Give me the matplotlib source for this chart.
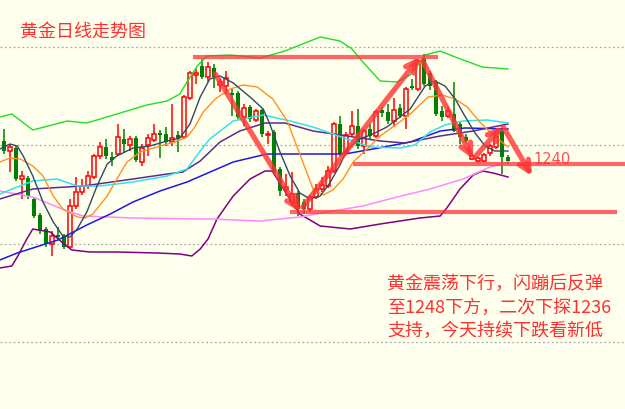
import numpy as np
import matplotlib
matplotlib.use('Agg')
import matplotlib.pyplot as plt

plt.rcParams['font.family'] = ['Noto Sans CJK SC', 'DejaVu Sans']

# daily candles (open, high, low, close)
opens = [1256.5, 1251.5, 1246.5, 1248, 1232.5, 1233, 1222.5, 1214.5, 1207.5, 1200,
         1204.5, 1204, 1198.5, 1219, 1226, 1229, 1233.5, 1244, 1248.5, 1243.5,
         1245, 1252.5, 1249.5, 1253, 1241, 1249.5, 1252, 1255.5, 1255, 1251,
         1254.5, 1253.5, 1273, 1284.5, 1289, 1283.5, 1288, 1279.5, 1279, 1275.5,
         1275.5, 1263.5, 1268.5, 1262, 1267, 1254.5, 1256, 1237.5, 1227.5, 1221,
         1225.5, 1221, 1217.5, 1223.5, 1227.5, 1229, 1236.5, 1260, 1246, 1255,
         1259, 1249, 1257.5, 1254, 1267, 1266, 1261.5, 1268, 1264, 1279,
         1277.5, 1292.5, 1285.5, 1281, 1266.5, 1264, 1265, 1260, 1253.5, 1242.5,
         1241.5, 1241.5, 1245.5, 1248.5, 1256.5, 1243.5]
highs = [1258.5, 1257.5, 1250, 1249, 1236.5, 1234, 1223.5, 1215.5, 1208.5, 1206.5,
         1208.5, 1205, 1222.5, 1233.5, 1232.5, 1236.5, 1245, 1251, 1252.5, 1246,
         1260, 1257.5, 1254, 1254, 1250, 1255, 1260, 1257, 1258.5, 1270,
         1256.5, 1274.5, 1286.5, 1287.5, 1292.5, 1291, 1290, 1282.5, 1286.5, 1277.5,
         1276.5, 1270, 1269.5, 1267.5, 1267.5, 1256.5, 1257, 1238.5, 1235, 1236,
         1226.5, 1222.5, 1224.5, 1230, 1233.5, 1239, 1261, 1264, 1256, 1266.5,
         1267.5, 1257.5, 1260, 1267, 1268.5, 1270, 1273, 1270, 1278.5, 1282.5,
         1292.5, 1295, 1286.5, 1282, 1269, 1268.5, 1281, 1261.5, 1255, 1245,
         1243.5, 1245.5, 1250, 1254.5, 1258, 1244.5]
lows = [1245, 1245, 1236, 1231.5, 1222.5, 1222.5, 1213, 1205, 1198.5, 1194,
        1202.5, 1197.5, 1197.5, 1217.5, 1224.5, 1227.5, 1232.5, 1242.5, 1242.5, 1239,
        1244, 1246, 1246.5, 1241, 1239, 1244, 1251, 1243, 1249, 1249,
        1246, 1252.5, 1272, 1280, 1282.5, 1281, 1278, 1276, 1275, 1264,
        1262.5, 1259, 1261, 1261, 1253.5, 1250, 1235, 1224, 1224, 1219,
        1214, 1215, 1216, 1222.5, 1226, 1228, 1235.5, 1244, 1245, 1254,
        1247.5, 1245, 1252.5, 1253, 1263.5, 1260, 1258.5, 1263, 1257.5, 1277,
        1276.5, 1279, 1277, 1264, 1261.5, 1263, 1256, 1250, 1250.5, 1242,
        1241, 1241, 1244, 1247.5, 1235, 1240]
closes = [1247.5, 1246.5, 1248.5, 1232.5, 1234, 1224, 1214, 1206.5, 1200, 1204,
          1203.5, 1198.5, 1219, 1226, 1229, 1234, 1244, 1248.5, 1244, 1242,
          1253.5, 1250, 1252.5, 1242, 1248, 1253, 1255, 1254.5, 1251, 1253,
          1253, 1273.5, 1285.5, 1285.5, 1283.5, 1288.5, 1283.5, 1281, 1283, 1274.5,
          1263.5, 1268, 1262.5, 1266.5, 1255, 1255, 1236, 1226.5, 1228.5, 1225,
          1217.5, 1217.5, 1223.5, 1227.5, 1229.5, 1236.5, 1260, 1245, 1254.5, 1259,
          1249, 1256.5, 1254, 1266, 1265.5, 1261.5, 1267, 1264, 1277.5, 1278,
          1291.5, 1280, 1279, 1265, 1263.5, 1266.5, 1256.5, 1253.5, 1251.5, 1244,
          1243, 1244.5, 1249, 1253.5, 1243.5, 1241.5]

# indicator lines, sampled along the bar axis
ma5_x = [0.3, 2, 3.2, 4.2, 5.8, 7.5, 9.2, 10.8, 12, 13.2, 14.8, 16.5, 18.2, 19.8, 22.5,
         25.3, 28.2, 30.3, 32, 33.7, 35.3, 37, 39.2, 42, 44.2, 45.3, 47, 48.7, 50.3,
         52, 53.7, 55.3, 57, 58.2, 60.3, 62.5, 64.8, 67, 68.7, 71.2, 72.8, 74.5, 76.2,
         77.8, 79.5, 81.2, 82.8, 85]
ma5_y = [1247.5, 1250, 1249, 1244, 1234, 1221, 1211, 1204, 1203.5, 1207.5, 1216, 1229,
         1240, 1244, 1248, 1249, 1251.5, 1253, 1260, 1273.5, 1282.5, 1284, 1280.5,
         1273.5, 1267.5, 1260, 1246, 1234, 1225.5, 1222.5, 1224, 1230.5, 1239.5,
         1247.5, 1252.5, 1255, 1258.5, 1263.5, 1267.5, 1279, 1281.5, 1279, 1272.5,
         1264, 1255.5, 1249, 1246.5, 1246.5]
ma10_x = [0.3, 2, 3.7, 5.8, 7.5, 9.2, 10.8, 13.2, 14.5, 15.8, 18.2, 19.8, 21.5, 23.7,
          27, 29.5, 31.5, 32.8, 34.2, 36.2, 38.7, 40.8, 43.2, 45.8, 48.2, 50.3, 52.5,
          54.2, 55.8, 57.5, 59.2, 61.5, 63.7, 66.5, 68.7, 71.7, 74, 76.2, 78.2, 80.3,
          82.5, 85]
ma10_y = [1241, 1243, 1242.5, 1239, 1234, 1224, 1217.5, 1213.5, 1213, 1215, 1224,
          1232.5, 1241, 1246, 1249, 1251, 1253.5, 1258.5, 1266, 1272.5, 1277.5,
          1279.5, 1278.5, 1272.5, 1261.5, 1245, 1227.5, 1224.5, 1227, 1232.5, 1241,
          1247.5, 1254, 1260, 1265, 1273.5, 1274.5, 1272.5, 1268.5, 1261, 1254.5,
          1248.5]
ma20_x = [0.3, 3.2, 5.8, 9.8, 13.2, 17, 22.5, 28.2, 31.5, 33.7, 35.3, 39.2, 44.2,
          48.7, 52.5, 58.2, 62, 67, 69.5, 72, 74.5, 77.5, 81.5, 85]
ma20_y = [1225, 1228.5, 1231.5, 1232.5, 1229, 1229, 1231, 1234, 1237.5, 1246.5,
          1252.5, 1261.5, 1264.5, 1261.5, 1258.5, 1252.5, 1248.5, 1248, 1249.5,
          1256, 1259.5, 1261.5, 1262, 1260.5]
ma30_x = [0.3, 5.8, 14.2, 22.5, 28.2, 30.8, 33.7, 37, 40.3, 44.5, 47.8, 52.5, 58.2,
          63.7, 67.8, 73.7, 79.2, 85]
ma30_y = [1222.5, 1227.5, 1229, 1232.5, 1235, 1236, 1241.5, 1251, 1256.5, 1260.5,
          1260.5, 1256.5, 1254, 1251.5, 1250.5, 1254, 1256.5, 1260]
ma60_x = [0.3, 3.2, 5.8, 10, 14.8, 18.7, 22.5, 27, 31.5, 34.2, 39.2, 44.8, 50.8, 57.8,
          62.5, 68.7, 73.7, 77.8, 85]
ma60_y = [1192, 1195.5, 1198, 1202, 1209.5, 1215, 1221, 1226.5, 1231, 1234.5, 1241,
          1245, 1245, 1245, 1247.5, 1251, 1256.5, 1258, 1257.5]
ma120_x = [0.3, 5.8, 11.5, 14.2, 22.5, 35.3, 43.7, 50.3, 55.8, 60.8, 66.5, 72, 77.5,
           82, 85]
ma120_y = [1226.5, 1223.5, 1216.5, 1214, 1213, 1212.5, 1211.5, 1213.5, 1216.5, 1219,
           1223.5, 1227.5, 1232.5, 1238.5, 1241]
boll_up_x = [0.3, 2.3, 5.8, 11.5, 14.8, 19.8, 24.8, 28.2, 30.3, 31.5, 33.2, 34.8,
             38.7, 43.7, 47.8, 50.3, 53.7, 57, 59, 60.8, 63.7, 66.5, 68.7, 71.2,
             73.7, 76.2, 80.7, 85]
boll_up_y = [1263.5, 1265, 1257, 1261.5, 1260.5, 1265, 1269.5, 1271.5, 1275, 1281,
             1289, 1294, 1294.5, 1293, 1296.5, 1299.5, 1303.5, 1301.5, 1297.5, 1291,
             1281.5, 1281, 1284.5, 1294.5, 1296.5, 1293.5, 1288.5, 1287.5]
boll_dn_x = [0.3, 2.3, 3.3, 4.8, 5.8, 8.7, 11.2, 12.3, 15.3, 19.8, 26.5, 30.3, 32.3,
             33.7, 35, 36.5, 39.2, 42, 44.5, 45.7, 47.8, 50.3, 53.7, 58.7, 63.7, 67,
             70.3, 73.7, 74.8, 77, 79.2, 80.8, 82.5, 85]
boll_dn_y = [1188, 1189, 1194, 1202.5, 1207.5, 1206, 1199.5, 1197, 1196, 1196,
             1195.5, 1195, 1194, 1197.5, 1202.5, 1212.5, 1224, 1232.5, 1236.5,
             1236.5, 1226.5, 1215, 1209, 1207.5, 1210, 1211.5, 1213, 1214, 1218,
             1227.5, 1234.5, 1236.5, 1235.5, 1233.5]

# drawn-in support / resistance levels and swing arrows
levels = [(32.5, 73.3, 1293.5), (59.2, 104.5, 1240), (48.7, 103.2, 1216)]
swings = [((36.2, 1285), (50.3, 1216)),
          ((50.8, 1218.5), (70.3, 1293.5)),
          ((70.8, 1291.5), (79.2, 1242.5)),
          ((79.5, 1243.5), (84, 1259)),
          ((84.2, 1258.5), (89, 1234))]

title = '黄金日线走势图'
note = ['黄金震荡下行，闪蹦后反弹', '至1248下方，二次下探1236', '支持，今天持续下跌看新低']

bg = '#FFFFEE'
red = '#FF3333'

fig = plt.figure(figsize=(6.25, 4.1), dpi=100, facecolor=bg)
ax = fig.add_axes([0, 0, 1, 1])
ax.set_facecolor(bg)

o = np.array(opens); h = np.array(highs); l = np.array(lows); c = np.array(closes)
x = np.arange(len(o))
up = c >= o
dn = ~up

ax.vlines(x[up], l[up], h[up], colors='#FF0000', lw=1.1, zorder=2)
ax.vlines(x[dn], l[dn], h[dn], colors='#008000', lw=1.1, zorder=2)
ax.bar(x[up], np.maximum(c[up] - o[up], 0.5), bottom=o[up], width=0.72,
       facecolor=bg, edgecolor='#FF0000', linewidth=1.1, zorder=2.5)
ax.bar(x[dn], np.maximum(o[dn] - c[dn], 0.5), bottom=c[dn], width=0.82,
       color='#008000', linewidth=0, zorder=2.5)

ax.plot(boll_up_x, boll_up_y, color='#22DD22', lw=1.0, zorder=3)
ax.plot(boll_dn_x, boll_dn_y, color='#800080', lw=1.1, zorder=3)
ax.plot(ma120_x, ma120_y, color='#FF88FF', lw=1.1, zorder=3)
ax.plot(ma60_x, ma60_y, color='#1A1AE6', lw=1.1, zorder=3)
ax.plot(ma30_x, ma30_y, color='#5E2A8C', lw=1.1, zorder=3)
ax.plot(ma20_x, ma20_y, color='#33E0F0', lw=1.1, zorder=3)
ax.plot(ma10_x, ma10_y, color='#FF9020', lw=1.0, zorder=3)
ax.plot(ma5_x, ma5_y, color='#2E4A66', lw=1.0, zorder=3)

for x0, x1, yv in levels:
    ax.plot([x0, x1], [yv, yv], color=red, lw=3, alpha=0.75, zorder=4,
            solid_capstyle='butt')

for start, tip in swings:
    ax.annotate('', xy=tip, xytext=start,
                arrowprops=dict(arrowstyle='->,head_length=0.75,head_width=0.38',
                                lw=3.8, color=red, alpha=0.8,
                                shrinkA=0, shrinkB=0), zorder=5)

ax.text(89.2, 1242.5, '1240', color=red, fontsize=10.5, va='center', ha='left',
        family=['DejaVu Sans'], alpha=0.85)

ax.text(0.032, 0.924, title, transform=ax.transAxes, color='#FF3030',
        fontsize=13, va='center', ha='left')
for i, line in enumerate(note):
    ax.text(0.619, 0.307 - i * 0.0575, line, transform=ax.transAxes,
            color='#FF3030', fontsize=13, va='center', ha='left')

ax.set_xlim(0.33, 104.5)
ax.set_ylim(1117.5, 1322.5)
ax.set_yticks([1151, 1200, 1249.5, 1298.5])
ax.set_xticks([])
ax.tick_params(length=0, labelleft=False)
ax.grid(axis='y', linestyle=(0, (1.5, 2)), color='#AAAAAA', lw=0.9)
ax.set_axisbelow(True)
for s in ax.spines.values():
    s.set_visible(False)

fig.savefig('out.png', dpi=100, facecolor=bg)
